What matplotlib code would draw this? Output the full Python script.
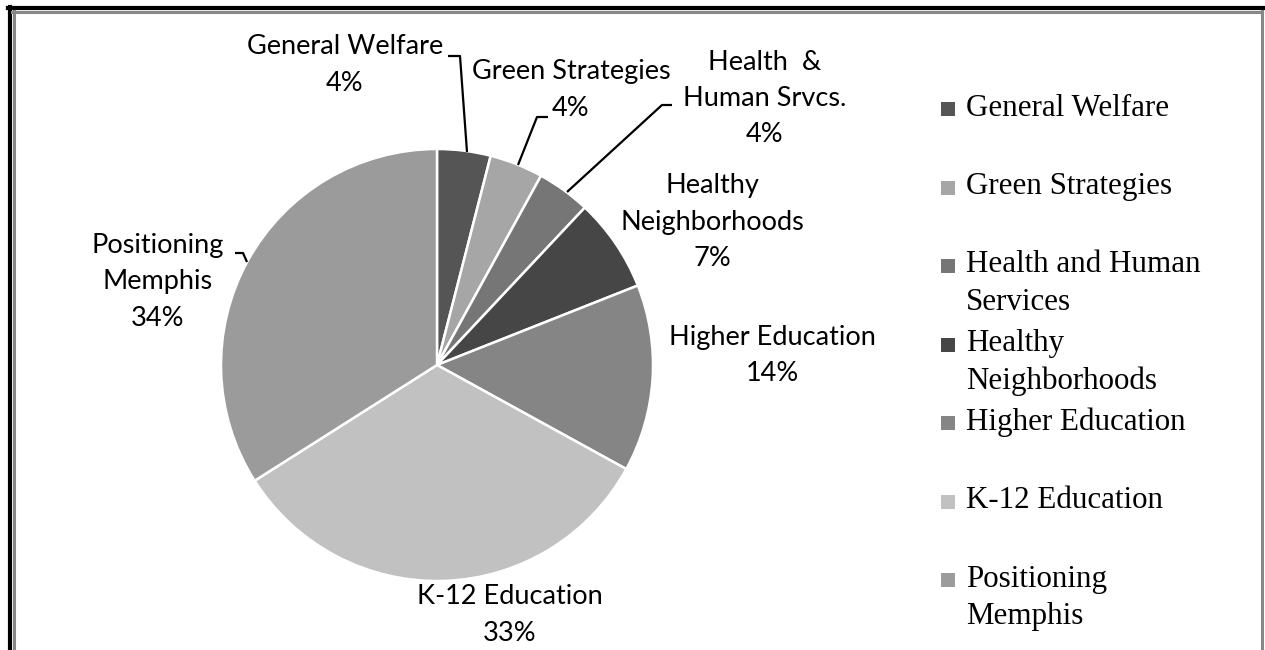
import matplotlib.pyplot as plt
from matplotlib.patches import Rectangle
from matplotlib.lines import Line2D

# data
categories = ['General Welfare', 'Green Strategies', 'Health & Human Srvcs.',
              'Healthy Neighborhoods', 'Higher Education', 'K-12 Education',
              'Positioning Memphis']
shares = [4, 4, 4, 7, 14, 33, 34]
slice_labels = ['General Welfare', 'Green Strategies', 'Health  &\nHuman Srvcs.',
                'Healthy\nNeighborhoods', 'Higher Education', 'K-12 Education',
                'Positioning\nMemphis']
legend_labels = ['General Welfare', 'Green Strategies', 'Health and Human\nServices',
                 'Healthy\nNeighborhoods', 'Higher Education', 'K-12 Education',
                 'Positioning\nMemphis']
colors = ['#555555', '#a6a6a6', '#767676', '#464646', '#858585', '#c1c1c1', '#9b9b9b']

W, H = 1265, 650
CX, CY, R = 437, 365, 216

fig = plt.figure(figsize=(W / 100, H / 100), dpi=100)
ax = fig.add_axes([0, 0, 1, 1])
ax.pie(shares, colors=colors, startangle=90, counterclock=False, radius=1,
       wedgeprops=dict(edgecolor='white', linewidth=1.8))
ax.set_aspect('auto')
ax.set_xlim(-CX / R, (W - CX) / R)
ax.set_ylim(-(H - CY) / R, CY / R)
ax.axis('off')


def px(x, y):
    return (x - CX) / R, (CY - y) / R


lab_font = dict(family=['Lato', 'DejaVu Sans'], fontsize=19.5, color='black',
                ha='center', va='center')

# label centre x and first-line y in pixels; lines 36 px apart
label_pos = [(345, 47), (571, 72), (765, 62), (712, 186),
             (772, 337), (510, 597), (158, 245)]
for name, val, (x, y0) in zip(slice_labels, shares, label_pos):
    lines = name.split('\n') + [f'{val}%']
    for k, line in enumerate(lines):
        ax.text(*px(x, y0 + k * 36.5), line, **lab_font)

# leader lines
leaders = [
    [(448, 56), (460, 56), (467, 152)],
    [(548, 117), (537, 117), (518, 165)],
    [(672, 105), (662, 105), (567, 192)],
    [(235, 253), (243, 253), (247, 262)],
]
for pts in leaders:
    xs, ys = zip(*[px(a, b) for a, b in pts])
    ax.plot(xs, ys, color='black', lw=1.6, solid_capstyle='butt')

# legend
for i, (lab, c) in enumerate(zip(legend_labels, colors)):
    y0 = 108 + i * 78.5
    ax.add_patch(Rectangle(px(941, y0 + 8), 14 / R, 14 / R, facecolor=c,
                           edgecolor='none'))
    for k, line in enumerate(lab.split('\n')):
        ax.text(*px(966, y0 + k * 37.5), line,
                family=['Liberation Serif', 'DejaVu Serif'],
                fontsize=22.3, ha='left', va='center')


# frame
def fline(x0, y0, x1, y1, c, lw):
    fig.add_artist(Line2D([x0 / W, x1 / W], [1 - y0 / H, 1 - y1 / H],
                          color=c, lw=lw, transform=fig.transFigure))


fline(8, 8, 1264, 8, 'black', 3)
fline(9.5, 6.5, 9.5, 650, 'black', 3)
fline(12, 11.5, 1262, 11.5, '#888888', 2.2)
fline(13.5, 11, 13.5, 650, '#888888', 2.2)
fline(1262, 11, 1262, 650, '#888888', 2.2)

fig.savefig('out.png', dpi=100)
